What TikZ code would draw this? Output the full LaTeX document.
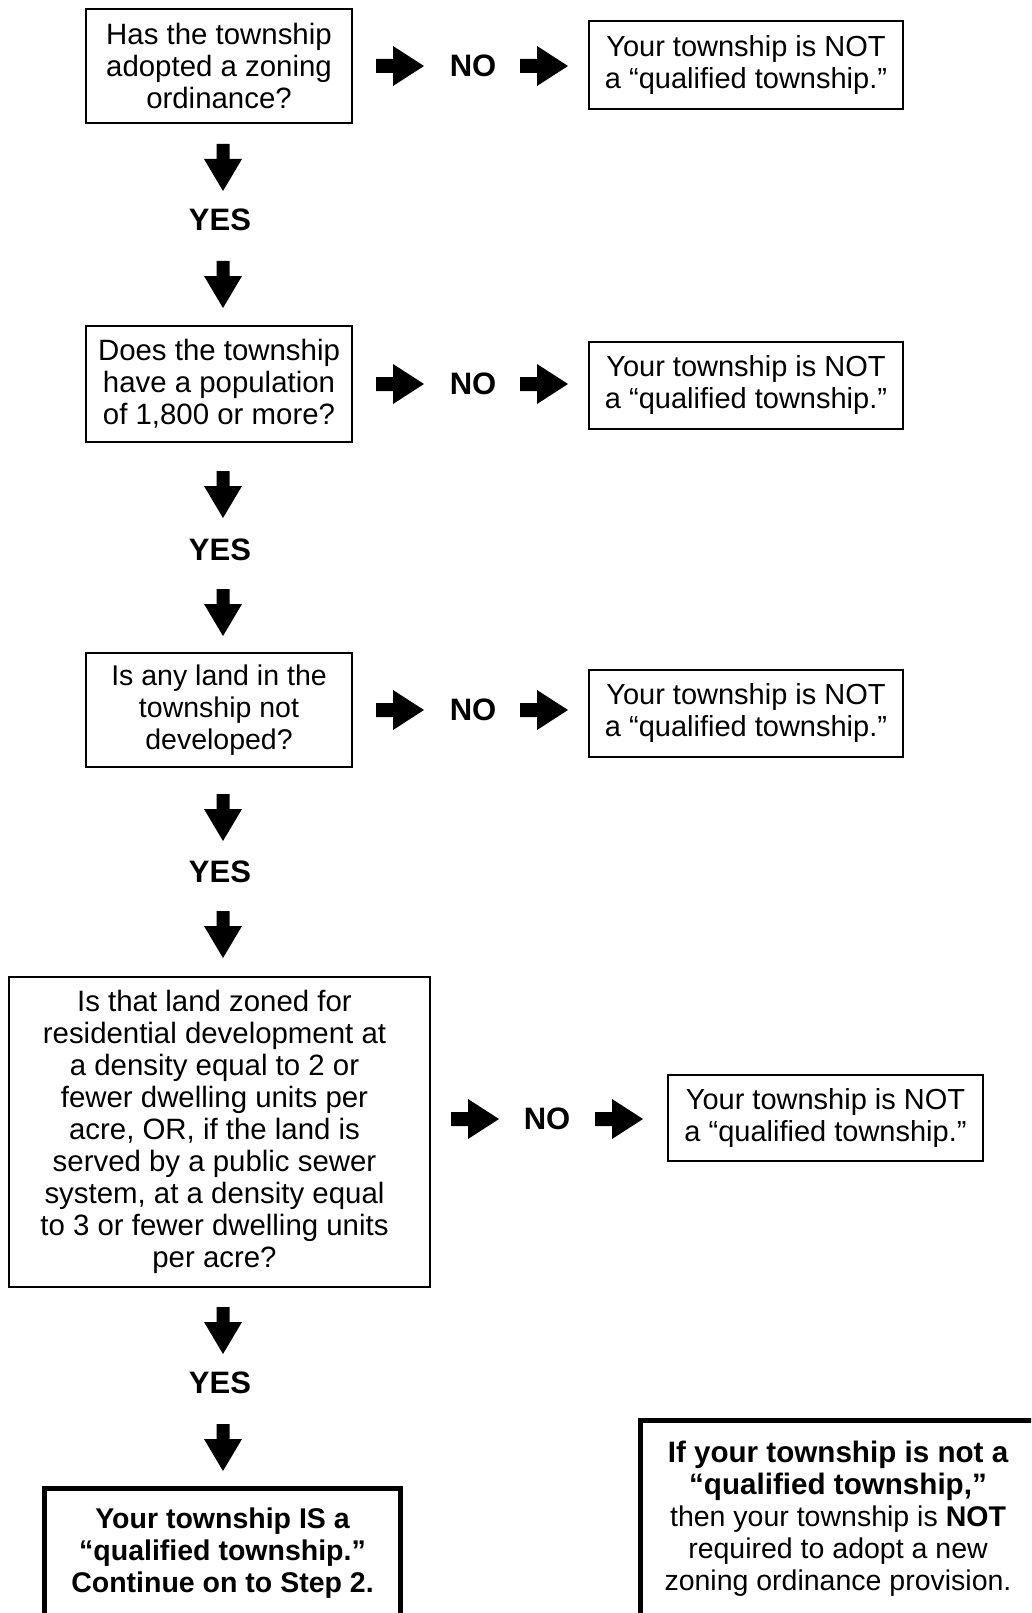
\documentclass[tikz,border=0pt]{standalone}
\usepackage{fontspec}
\setmainfont{Liberation Sans}
\tikzset{
  qbox/.style={draw, line width=2pt, align=center, inner sep=0pt,
    font=\fontsize{29.4}{32}\selectfont},
  thickbox/.style={draw, line width=5pt, align=center, inner sep=0pt,
    font=\fontsize{28.5}{32}\selectfont},
  lbl/.style={font=\fontsize{31}{34}\selectfont\bfseries, inner sep=0pt},
  rarrow/.pic={\fill[black] (0,-7) -- (17,-7) -- (17,-20) -- (48,0) -- (17,20) -- (17,7) -- (0,7) -- cycle;},
  darrow/.pic={\fill[black] (-6.5,0) -- (-6.5,15) -- (-19,15) -- (0,47) -- (19,15) -- (6.5,15) -- (6.5,0) -- cycle;}
}
\newcommand{\bigb}[1]{{\fontsize{29.6}{32}\selectfont\bfseries #1}}
\begin{document}
\begin{tikzpicture}[x=1pt,y=-1pt]
\useasboundingbox (0,0) rectangle (1031,1613);
\clip (0,0) rectangle (1031,1613);
\fill[white] (0,0) rectangle (1031,1613);

% Question boxes
\node[qbox, minimum width=266pt, minimum height=114pt] (q1) at (219,66)
  {Has the township\\adopted a zoning\\ordinance?};
\node[qbox, minimum width=266pt, minimum height=116pt] (q2) at (219,384)
  {Does the township\\have a population\\of 1,800 or more?};
\node[qbox, font=\fontsize{28.5}{32}\selectfont, minimum width=266pt, minimum height=114pt] (q3) at (219,710)
  {Is any land in the\\township not\\developed?};
\node[qbox, minimum width=421pt, minimum height=310pt,
  label={[xshift=-5pt, align=center, inner sep=0pt, font=\fontsize{29.4}{32}\selectfont]center:{Is that land zoned for\\residential development at\\a density equal to 2 or\\fewer dwelling units per\\acre, OR, if the land is\\served by a public sewer\\system, at a density equal\\to 3 or fewer dwelling units\\per acre?}}] (q4) at (219.5,1132) {};

% Result boxes
\node[qbox, font=\fontsize{29}{32}\selectfont, minimum width=314pt, minimum height=88pt] (r1) at (746,65)
  {Your township is NOT\\a “qualified township.”};
\node[qbox, font=\fontsize{29}{32}\selectfont, minimum width=314pt, minimum height=87pt] (r2) at (746,385)
  {Your township is NOT\\a “qualified township.”};
\node[qbox, font=\fontsize{29}{32}\selectfont, minimum width=314pt, minimum height=87pt] (r3) at (746,713)
  {Your township is NOT\\a “qualified township.”};
\node[qbox, font=\fontsize{29}{32}\selectfont, minimum width=315pt, minimum height=86pt] (r4) at (825.5,1118)
  {Your township is NOT\\a “qualified township.”};

% NO rows
\pic (a1l) at (376,66) {rarrow};
\node[lbl] (no1) at (473,66) {NO};
\pic (a1r) at (520,66) {rarrow};

\pic (a2l) at (376,384) {rarrow};
\node[lbl] (no2) at (473,384) {NO};
\pic (a2r) at (520,384) {rarrow};

\pic (a3l) at (376,710) {rarrow};
\node[lbl] (no3) at (473,710) {NO};
\pic (a3r) at (520,710) {rarrow};

\pic (a4l) at (451,1119) {rarrow};
\node[lbl] (no4) at (547,1119) {NO};
\pic (a4r) at (595,1119) {rarrow};

% YES columns
\pic (d1a) at (223,144) {darrow};
\node[lbl] (yes1) at (220,220) {YES};
\pic (d1b) at (223,261) {darrow};

\pic (d2a) at (223,471) {darrow};
\node[lbl] (yes2) at (220,549.5) {YES};
\pic (d2b) at (223,589) {darrow};

\pic (d3a) at (223,794) {darrow};
\node[lbl] (yes3) at (220,871.5) {YES};
\pic (d3b) at (223,911) {darrow};

\pic (d4a) at (223,1307) {darrow};
\node[lbl] (yes4) at (220,1383) {YES};
\pic (d4b) at (223,1424) {darrow};

% Final boxes
\node[thickbox, font=\fontsize{28.5}{32}\selectfont\bfseries,
  minimum width=356pt, minimum height=130pt] (fin) at (222.5,1553)
  {Your township IS a\\“qualified township.”\\Continue on to Step 2.};
\node[thickbox, minimum width=396pt, minimum height=198pt] (note) at (838,1519)
  {\bigb{If your township is not a}\\\bigb{“qualified township,”}\\then your township is \textbf{NOT}\\required to adopt a new\\zoning ordinance provision.};
\end{tikzpicture}
\end{document}
